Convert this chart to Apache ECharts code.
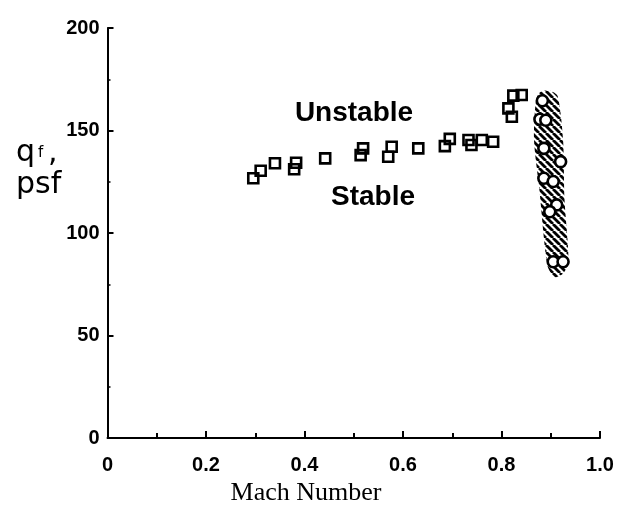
<!DOCTYPE html>
<html>
<head>
<meta charset="utf-8">
<script src="https://cdn.jsdelivr.net/npm/echarts@6/dist/echarts.min.js"></script>
<style>
  html, body { margin: 0; padding: 0; background: #fff; }
  #chart { width: 631px; height: 515px; }
</style>
</head>
<body>
<div id="chart"></div>
<script>
// 方块: 颤振边界 (Mach, q_f)
const squareMach = [0.296, 0.311, 0.340, 0.379, 0.383, 0.442, 0.514, 0.519, 0.570, 0.577,
    0.631, 0.685, 0.695, 0.733, 0.739, 0.760, 0.783, 0.814, 0.821, 0.824, 0.841]
const squareQ = [126.7, 130.4, 134.0, 131.1, 134.3, 136.4, 138.0, 141.3, 137.2, 142.1,
    141.3, 142.4, 145.9, 145.4, 142.9, 145.4, 144.5, 160.8, 156.7, 167.0, 167.3]

// 圆点
const circleMach = [0.883, 0.878, 0.890, 0.886, 0.920, 0.886, 0.905, 0.912, 0.898, 0.905, 0.925]
const circleQ = [164.5, 155.5, 155.0, 141.3, 134.8, 126.7, 125.1, 113.7, 110.4, 86.0, 86.0]

// 阴影带轮廓
const bandMach = [0.870, 0.879, 0.897, 0.914, 0.925, 0.928, 0.936, 0.924, 0.907, 0.893, 0.877, 0.866]
const bandQ = [164.9, 168.8, 169.5, 166.8, 145.4, 116.1, 85.9, 80.0, 78.5, 84.4, 121.0, 145.4]

const xTickLabels = ['0', '0.2', '0.4', '0.6', '0.8', '1.0']
const yTickLabels = ['0', '50', '100', '150', '200']

function pairs(xs, ys) {
    return xs.map((x, i) => [x, ys[i]])
}

// 斜线填充
function hatch() {
    const s = 7
    const c = document.createElement('canvas')
    c.width = s
    c.height = s
    const ctx = c.getContext('2d')
    ctx.strokeStyle = '#000'
    ctx.lineWidth = 2.8
    for (let k = -s; k <= s; k += s) {
        ctx.beginPath()
        ctx.moveTo(k, 0)
        ctx.lineTo(k + s, s)
        ctx.stroke()
    }
    return c
}

const chart = echarts.init(document.getElementById('chart'))
const tickFont = { color: '#000', fontFamily: 'Liberation Sans', fontWeight: 'bold', fontSize: 20 }

const option = {
    animation: false,
    grid: { left: 107.5, right: 31, top: 28, bottom: 77 },
    xAxis: {
        type: 'value',
        min: 0,
        max: 1,
        interval: 0.2,
        axisLine: { lineStyle: { color: '#000', width: 2 } },
        axisTick: { inside: true, length: 7, lineStyle: { color: '#000', width: 2 } },
        minorTick: { show: true, splitNumber: 2, length: 5, lineStyle: { color: '#000', width: 2 } },
        splitLine: { show: false },
        axisLabel: Object.assign({
            margin: 17,
            formatter: v => xTickLabels[Math.round(v / 0.2)]
        }, tickFont)
    },
    yAxis: {
        type: 'value',
        min: 0,
        max: 200,
        interval: 50,
        axisLine: { lineStyle: { color: '#000', width: 2 } },
        axisTick: { inside: true, length: 6, lineStyle: { color: '#000', width: 2 } },
        minorTick: { show: true, splitNumber: 2, length: 3, lineStyle: { color: '#000', width: 1.5 } },
        splitLine: { show: false },
        axisLabel: Object.assign({
            margin: 8,
            formatter: v => yTickLabels[Math.round(v / 50)]
        }, tickFont)
    },
    series: [
        {
            type: 'custom',
            z: 1,
            data: [[0, 0]],
            renderItem: function (params, api) {
                const pts = bandMach.map((m, i) => api.coord([m, bandQ[i]]))
                return {
                    type: 'polygon',
                    shape: { points: pts, smooth: 0.25 },
                    style: { fill: { image: hatch(), repeat: 'repeat' }, stroke: null }
                }
            }
        },
        {
            type: 'scatter',
            z: 3,
            symbol: 'rect',
            symbolSize: 10,
            itemStyle: { color: 'rgba(0,0,0,0)', borderColor: '#000', borderWidth: 2.6, opacity: 1 },
            data: pairs(squareMach, squareQ)
        },
        {
            type: 'scatter',
            z: 4,
            symbol: 'circle',
            symbolSize: 11,
            itemStyle: { color: '#fff', borderColor: '#000', borderWidth: 2.6, opacity: 1 },
            data: pairs(circleMach, circleQ)
        }
    ],
    graphic: [
        { type: 'text', x: 354, y: 113, style: { text: 'Unstable', fill: '#000', font: 'bold 28px "Liberation Sans"', textAlign: 'center', textVerticalAlign: 'middle' } },
        { type: 'text', x: 373, y: 197, style: { text: 'Stable', fill: '#000', font: 'bold 28px "Liberation Sans"', textAlign: 'center', textVerticalAlign: 'middle' } },
        { type: 'text', x: 16, y: 138, style: { text: 'q', fill: '#000', font: '30px "DejaVu Sans"' } },
        { type: 'text', x: 38, y: 146, style: { text: 'f', fill: '#000', font: '15px "DejaVu Sans"' } },
        { type: 'text', x: 48, y: 138, style: { text: ',', fill: '#000', font: '30px "DejaVu Sans"' } },
        { type: 'text', x: 16, y: 170, style: { text: 'psf', fill: '#000', font: '30px "DejaVu Sans"' } },
        { type: 'text', x: 306, y: 493, style: { text: 'Mach Number', fill: '#000', font: '26px "Liberation Serif"', textAlign: 'center', textVerticalAlign: 'middle' } }
    ]
}
chart.setOption(option)
</script>
</body>
</html>
